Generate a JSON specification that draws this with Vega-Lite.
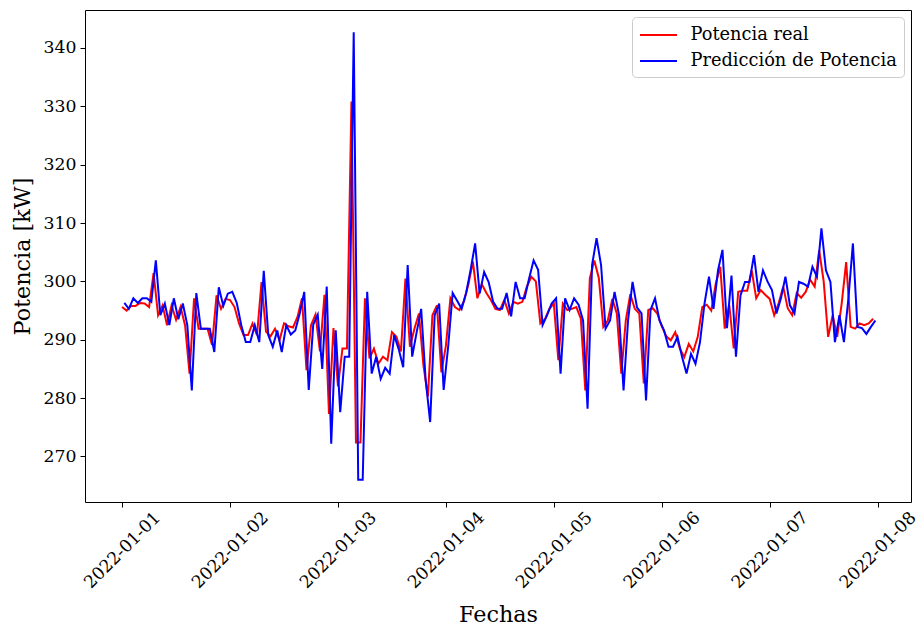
{
  "$schema": "https://vega.github.io/schema/vega-lite/v6.json",
  "width": 826,
  "height": 492,
  "autosize": {"type": "none"},
  "padding": {"left": 85, "top": 10, "right": 7, "bottom": 123},
  "background": "white",
  "config": {
    "font": "DejaVu Serif",
    "view": {"stroke": "#000000", "strokeWidth": 1},
    "axis": {
      "grid": false, "domain": false, "tickColor": "#000000", "tickSize": 5, "tickWidth": 1,
      "labelColor": "#000000", "labelFont": "DejaVu Serif", "labelFontSize": 17.3,
      "titleFont": "DejaVu Serif", "titleFontSize": 22.3, "titleFontWeight": "normal", "titleColor": "#000000"
    }
  },
  "datasets": {
    "real": [
      {"t":"2022-01-01T00:00","v":295.6},{"t":"2022-01-01T01:00","v":295.0},{"t":"2022-01-01T02:00","v":295.8},{"t":"2022-01-01T03:00","v":295.8},{"t":"2022-01-01T04:00","v":296.3},{"t":"2022-01-01T05:00","v":296.2},{"t":"2022-01-01T06:00","v":295.6},{"t":"2022-01-01T07:00","v":301.4},{"t":"2022-01-01T08:00","v":294.2},{"t":"2022-01-01T09:00","v":295.9},{"t":"2022-01-01T10:00","v":292.5},{"t":"2022-01-01T11:00","v":295.9},{"t":"2022-01-01T12:00","v":293.4},{"t":"2022-01-01T13:00","v":295.6},{"t":"2022-01-01T14:00","v":292.5},{"t":"2022-01-01T15:00","v":284.2},{"t":"2022-01-01T16:00","v":297.1},{"t":"2022-01-01T17:00","v":291.9},{"t":"2022-01-01T18:00","v":291.9},{"t":"2022-01-01T19:00","v":291.9},{"t":"2022-01-01T20:00","v":289.1},{"t":"2022-01-01T21:00","v":297.6},{"t":"2022-01-01T22:00","v":295.3},{"t":"2022-01-01T23:00","v":297.0},
      {"t":"2022-01-02T00:00","v":296.8},{"t":"2022-01-02T01:00","v":295.6},{"t":"2022-01-02T02:00","v":292.8},{"t":"2022-01-02T03:00","v":290.8},{"t":"2022-01-02T04:00","v":290.8},{"t":"2022-01-02T05:00","v":292.8},{"t":"2022-01-02T06:00","v":290.8},{"t":"2022-01-02T07:00","v":299.9},{"t":"2022-01-02T08:00","v":291.4},{"t":"2022-01-02T09:00","v":290.6},{"t":"2022-01-02T10:00","v":291.9},{"t":"2022-01-02T11:00","v":289.9},{"t":"2022-01-02T12:00","v":292.8},{"t":"2022-01-02T13:00","v":292.3},{"t":"2022-01-02T14:00","v":292.1},{"t":"2022-01-02T15:00","v":293.9},{"t":"2022-01-02T16:00","v":297.1},{"t":"2022-01-02T17:00","v":284.8},{"t":"2022-01-02T18:00","v":292.5},{"t":"2022-01-02T19:00","v":294.3},{"t":"2022-01-02T20:00","v":288.0},{"t":"2022-01-02T21:00","v":297.7},{"t":"2022-01-02T22:00","v":277.3},{"t":"2022-01-02T23:00","v":292.0},
      {"t":"2022-01-03T00:00","v":282.0},{"t":"2022-01-03T01:00","v":288.5},{"t":"2022-01-03T02:00","v":288.5},{"t":"2022-01-03T03:00","v":330.8},{"t":"2022-01-03T04:00","v":272.4},{"t":"2022-01-03T05:00","v":272.4},{"t":"2022-01-03T06:00","v":297.1},{"t":"2022-01-03T07:00","v":286.8},{"t":"2022-01-03T08:00","v":288.5},{"t":"2022-01-03T09:00","v":285.9},{"t":"2022-01-03T10:00","v":287.1},{"t":"2022-01-03T11:00","v":286.5},{"t":"2022-01-03T12:00","v":291.3},{"t":"2022-01-03T13:00","v":290.5},{"t":"2022-01-03T14:00","v":288.0},{"t":"2022-01-03T15:00","v":300.5},{"t":"2022-01-03T16:00","v":288.8},{"t":"2022-01-03T17:00","v":291.9},{"t":"2022-01-03T18:00","v":294.5},{"t":"2022-01-03T19:00","v":285.6},{"t":"2022-01-03T20:00","v":280.3},{"t":"2022-01-03T21:00","v":294.2},{"t":"2022-01-03T22:00","v":295.9},{"t":"2022-01-03T23:00","v":284.4},
      {"t":"2022-01-04T00:00","v":289.0},{"t":"2022-01-04T01:00","v":297.1},{"t":"2022-01-04T02:00","v":295.6},{"t":"2022-01-04T03:00","v":295.1},{"t":"2022-01-04T04:00","v":296.6},{"t":"2022-01-04T05:00","v":299.5},{"t":"2022-01-04T06:00","v":303.4},{"t":"2022-01-04T07:00","v":297.1},{"t":"2022-01-04T08:00","v":299.5},{"t":"2022-01-04T09:00","v":298.0},{"t":"2022-01-04T10:00","v":296.8},{"t":"2022-01-04T11:00","v":295.3},{"t":"2022-01-04T12:00","v":295.1},{"t":"2022-01-04T13:00","v":296.8},{"t":"2022-01-04T14:00","v":294.5},{"t":"2022-01-04T15:00","v":296.5},{"t":"2022-01-04T16:00","v":296.2},{"t":"2022-01-04T17:00","v":296.5},{"t":"2022-01-04T18:00","v":299.1},{"t":"2022-01-04T19:00","v":300.8},{"t":"2022-01-04T20:00","v":300.0},{"t":"2022-01-04T21:00","v":292.8},{"t":"2022-01-04T22:00","v":293.5},{"t":"2022-01-04T23:00","v":295.3},
      {"t":"2022-01-05T00:00","v":296.2},{"t":"2022-01-05T01:00","v":286.5},{"t":"2022-01-05T02:00","v":296.2},{"t":"2022-01-05T03:00","v":295.1},{"t":"2022-01-05T04:00","v":295.3},{"t":"2022-01-05T05:00","v":295.6},{"t":"2022-01-05T06:00","v":293.6},{"t":"2022-01-05T07:00","v":281.3},{"t":"2022-01-05T08:00","v":300.5},{"t":"2022-01-05T09:00","v":303.6},{"t":"2022-01-05T10:00","v":300.6},{"t":"2022-01-05T11:00","v":292.2},{"t":"2022-01-05T12:00","v":293.3},{"t":"2022-01-05T13:00","v":297.0},{"t":"2022-01-05T14:00","v":294.5},{"t":"2022-01-05T15:00","v":284.2},{"t":"2022-01-05T16:00","v":293.3},{"t":"2022-01-05T17:00","v":297.8},{"t":"2022-01-05T18:00","v":295.3},{"t":"2022-01-05T19:00","v":294.5},{"t":"2022-01-05T20:00","v":282.5},{"t":"2022-01-05T21:00","v":295.1},{"t":"2022-01-05T22:00","v":295.4},{"t":"2022-01-05T23:00","v":294.5},
      {"t":"2022-01-06T00:00","v":292.3},{"t":"2022-01-06T01:00","v":290.6},{"t":"2022-01-06T02:00","v":289.9},{"t":"2022-01-06T03:00","v":291.3},{"t":"2022-01-06T04:00","v":288.5},{"t":"2022-01-06T05:00","v":287.0},{"t":"2022-01-06T06:00","v":289.3},{"t":"2022-01-06T07:00","v":288.0},{"t":"2022-01-06T08:00","v":290.5},{"t":"2022-01-06T09:00","v":295.6},{"t":"2022-01-06T10:00","v":296.0},{"t":"2022-01-06T11:00","v":295.0},{"t":"2022-01-06T12:00","v":299.6},{"t":"2022-01-06T13:00","v":302.5},{"t":"2022-01-06T14:00","v":291.9},{"t":"2022-01-06T15:00","v":296.0},{"t":"2022-01-06T16:00","v":288.5},{"t":"2022-01-06T17:00","v":298.2},{"t":"2022-01-06T18:00","v":298.4},{"t":"2022-01-06T19:00","v":298.4},{"t":"2022-01-06T20:00","v":301.9},{"t":"2022-01-06T21:00","v":297.1},{"t":"2022-01-06T22:00","v":298.5},{"t":"2022-01-06T23:00","v":297.7},
      {"t":"2022-01-07T00:00","v":297.0},{"t":"2022-01-07T01:00","v":294.2},{"t":"2022-01-07T02:00","v":296.3},{"t":"2022-01-07T03:00","v":299.1},{"t":"2022-01-07T04:00","v":295.4},{"t":"2022-01-07T05:00","v":294.2},{"t":"2022-01-07T06:00","v":298.0},{"t":"2022-01-07T07:00","v":297.2},{"t":"2022-01-07T08:00","v":298.2},{"t":"2022-01-07T09:00","v":300.3},{"t":"2022-01-07T10:00","v":299.1},{"t":"2022-01-07T11:00","v":305.3},{"t":"2022-01-07T12:00","v":300.0},{"t":"2022-01-07T13:00","v":290.5},{"t":"2022-01-07T14:00","v":294.2},{"t":"2022-01-07T15:00","v":290.5},{"t":"2022-01-07T16:00","v":296.2},{"t":"2022-01-07T17:00","v":303.3},{"t":"2022-01-07T18:00","v":292.2},{"t":"2022-01-07T19:00","v":291.9},{"t":"2022-01-07T20:00","v":292.8},{"t":"2022-01-07T21:00","v":292.5},{"t":"2022-01-07T22:00","v":292.8},{"t":"2022-01-07T23:00","v":293.6}
    ],
    "pred": [
      {"t":"2022-01-01T00:30","v":296.3},{"t":"2022-01-01T01:30","v":295.3},{"t":"2022-01-01T02:30","v":297.1},{"t":"2022-01-01T03:30","v":296.3},{"t":"2022-01-01T04:30","v":297.1},{"t":"2022-01-01T05:30","v":297.1},{"t":"2022-01-01T06:30","v":296.5},{"t":"2022-01-01T07:30","v":303.6},{"t":"2022-01-01T08:30","v":294.2},{"t":"2022-01-01T09:30","v":296.2},{"t":"2022-01-01T10:30","v":292.5},{"t":"2022-01-01T11:30","v":297.1},{"t":"2022-01-01T12:30","v":293.5},{"t":"2022-01-01T13:30","v":296.2},{"t":"2022-01-01T14:30","v":292.5},{"t":"2022-01-01T15:30","v":281.3},{"t":"2022-01-01T16:30","v":298.0},{"t":"2022-01-01T17:30","v":291.9},{"t":"2022-01-01T18:30","v":291.9},{"t":"2022-01-01T19:30","v":291.9},{"t":"2022-01-01T20:30","v":287.9},{"t":"2022-01-01T21:30","v":299.0},{"t":"2022-01-01T22:30","v":295.8},{"t":"2022-01-01T23:30","v":297.9},
      {"t":"2022-01-02T00:30","v":298.2},{"t":"2022-01-02T01:30","v":296.3},{"t":"2022-01-02T02:30","v":292.5},{"t":"2022-01-02T03:30","v":289.6},{"t":"2022-01-02T04:30","v":289.6},{"t":"2022-01-02T05:30","v":292.5},{"t":"2022-01-02T06:30","v":289.6},{"t":"2022-01-02T07:30","v":301.8},{"t":"2022-01-02T08:30","v":290.8},{"t":"2022-01-02T09:30","v":288.8},{"t":"2022-01-02T10:30","v":291.6},{"t":"2022-01-02T11:30","v":287.9},{"t":"2022-01-02T12:30","v":292.5},{"t":"2022-01-02T13:30","v":290.9},{"t":"2022-01-02T14:30","v":291.6},{"t":"2022-01-02T15:30","v":294.5},{"t":"2022-01-02T16:30","v":298.2},{"t":"2022-01-02T17:30","v":281.4},{"t":"2022-01-02T18:30","v":292.6},{"t":"2022-01-02T19:30","v":294.3},{"t":"2022-01-02T20:30","v":285.0},{"t":"2022-01-02T21:30","v":299.1},{"t":"2022-01-02T22:30","v":272.2},{"t":"2022-01-02T23:30","v":291.6},
      {"t":"2022-01-03T00:30","v":277.6},{"t":"2022-01-03T01:30","v":287.1},{"t":"2022-01-03T02:30","v":287.1},{"t":"2022-01-03T03:30","v":342.7},{"t":"2022-01-03T04:30","v":266.0},{"t":"2022-01-03T05:30","v":266.0},{"t":"2022-01-03T06:30","v":298.2},{"t":"2022-01-03T07:30","v":284.2},{"t":"2022-01-03T08:30","v":287.1},{"t":"2022-01-03T09:30","v":283.3},{"t":"2022-01-03T10:30","v":285.2},{"t":"2022-01-03T11:30","v":284.2},{"t":"2022-01-03T12:30","v":290.8},{"t":"2022-01-03T13:30","v":288.4},{"t":"2022-01-03T14:30","v":285.3},{"t":"2022-01-03T15:30","v":302.8},{"t":"2022-01-03T16:30","v":287.1},{"t":"2022-01-03T17:30","v":291.3},{"t":"2022-01-03T18:30","v":295.3},{"t":"2022-01-03T19:30","v":283.1},{"t":"2022-01-03T20:30","v":275.9},{"t":"2022-01-03T21:30","v":294.2},{"t":"2022-01-03T22:30","v":296.2},{"t":"2022-01-03T23:30","v":281.4},
      {"t":"2022-01-04T00:30","v":288.8},{"t":"2022-01-04T01:30","v":298.0},{"t":"2022-01-04T02:30","v":296.7},{"t":"2022-01-04T03:30","v":295.3},{"t":"2022-01-04T04:30","v":298.0},{"t":"2022-01-04T05:30","v":302.0},{"t":"2022-01-04T06:30","v":306.5},{"t":"2022-01-04T07:30","v":297.9},{"t":"2022-01-04T08:30","v":301.6},{"t":"2022-01-04T09:30","v":299.9},{"t":"2022-01-04T10:30","v":296.5},{"t":"2022-01-04T11:30","v":295.3},{"t":"2022-01-04T12:30","v":295.3},{"t":"2022-01-04T13:30","v":298.0},{"t":"2022-01-04T14:30","v":294.0},{"t":"2022-01-04T15:30","v":299.9},{"t":"2022-01-04T16:30","v":297.1},{"t":"2022-01-04T17:30","v":297.1},{"t":"2022-01-04T18:30","v":300.5},{"t":"2022-01-04T19:30","v":303.6},{"t":"2022-01-04T20:30","v":302.0},{"t":"2022-01-04T21:30","v":292.5},{"t":"2022-01-04T22:30","v":294.2},{"t":"2022-01-04T23:30","v":296.2},
      {"t":"2022-01-05T00:30","v":297.1},{"t":"2022-01-05T01:30","v":284.2},{"t":"2022-01-05T02:30","v":297.1},{"t":"2022-01-05T03:30","v":295.1},{"t":"2022-01-05T04:30","v":297.1},{"t":"2022-01-05T05:30","v":296.0},{"t":"2022-01-05T06:30","v":293.3},{"t":"2022-01-05T07:30","v":278.2},{"t":"2022-01-05T08:30","v":302.8},{"t":"2022-01-05T09:30","v":307.4},{"t":"2022-01-05T10:30","v":302.8},{"t":"2022-01-05T11:30","v":291.9},{"t":"2022-01-05T12:30","v":293.3},{"t":"2022-01-05T13:30","v":298.2},{"t":"2022-01-05T14:30","v":294.2},{"t":"2022-01-05T15:30","v":281.3},{"t":"2022-01-05T16:30","v":293.3},{"t":"2022-01-05T17:30","v":299.9},{"t":"2022-01-05T18:30","v":295.5},{"t":"2022-01-05T19:30","v":294.5},{"t":"2022-01-05T20:30","v":279.6},{"t":"2022-01-05T21:30","v":295.1},{"t":"2022-01-05T22:30","v":297.1},{"t":"2022-01-05T23:30","v":293.3},
      {"t":"2022-01-06T00:30","v":291.6},{"t":"2022-01-06T01:30","v":288.8},{"t":"2022-01-06T02:30","v":288.8},{"t":"2022-01-06T03:30","v":290.5},{"t":"2022-01-06T04:30","v":287.1},{"t":"2022-01-06T05:30","v":284.2},{"t":"2022-01-06T06:30","v":287.6},{"t":"2022-01-06T07:30","v":285.9},{"t":"2022-01-06T08:30","v":289.6},{"t":"2022-01-06T09:30","v":296.2},{"t":"2022-01-06T10:30","v":300.8},{"t":"2022-01-06T11:30","v":295.3},{"t":"2022-01-06T12:30","v":301.9},{"t":"2022-01-06T13:30","v":305.4},{"t":"2022-01-06T14:30","v":292.0},{"t":"2022-01-06T15:30","v":301.0},{"t":"2022-01-06T16:30","v":287.1},{"t":"2022-01-06T17:30","v":297.6},{"t":"2022-01-06T18:30","v":299.9},{"t":"2022-01-06T19:30","v":299.9},{"t":"2022-01-06T20:30","v":304.5},{"t":"2022-01-06T21:30","v":298.2},{"t":"2022-01-06T22:30","v":301.9},{"t":"2022-01-06T23:30","v":300.0},
      {"t":"2022-01-07T00:30","v":298.5},{"t":"2022-01-07T01:30","v":294.5},{"t":"2022-01-07T02:30","v":297.1},{"t":"2022-01-07T03:30","v":300.8},{"t":"2022-01-07T04:30","v":295.9},{"t":"2022-01-07T05:30","v":294.5},{"t":"2022-01-07T06:30","v":299.9},{"t":"2022-01-07T07:30","v":299.6},{"t":"2022-01-07T08:30","v":299.1},{"t":"2022-01-07T09:30","v":302.5},{"t":"2022-01-07T10:30","v":300.8},{"t":"2022-01-07T11:30","v":309.1},{"t":"2022-01-07T12:30","v":301.9},{"t":"2022-01-07T13:30","v":299.9},{"t":"2022-01-07T14:30","v":289.6},{"t":"2022-01-07T15:30","v":294.2},{"t":"2022-01-07T16:30","v":289.6},{"t":"2022-01-07T17:30","v":297.1},{"t":"2022-01-07T18:30","v":306.5},{"t":"2022-01-07T19:30","v":292.2},{"t":"2022-01-07T20:30","v":292.0},{"t":"2022-01-07T21:30","v":291.0},{"t":"2022-01-07T22:30","v":292.2},{"t":"2022-01-07T23:30","v":293.3}
    ]
  },
  "encoding": {
    "x": {
      "field": "t", "type": "temporal", "title": "Fechas",
      "scale": {"domain": [{"year": 2021, "month": 12, "date": 31, "hours": 15, "minutes": 45}, {"year": 2022, "month": 1, "date": 8, "hours": 7, "minutes": 25}]},
      "axis": {
        "values": [
          {"year": 2022, "month": 1, "date": 1}, {"year": 2022, "month": 1, "date": 2}, {"year": 2022, "month": 1, "date": 3}, {"year": 2022, "month": 1, "date": 4},
          {"year": 2022, "month": 1, "date": 5}, {"year": 2022, "month": 1, "date": 6}, {"year": 2022, "month": 1, "date": 7}, {"year": 2022, "month": 1, "date": 8}
        ],
        "format": "%Y-%m-%d", "labelAngle": -45, "labelAlign": "center", "labelBaseline": "middle",
        "labelPadding": 43, "labelOverlap": false, "labelBound": false, "labelFlush": false,
        "titleX": 413, "titleY": 119, "titleBaseline": "alphabetic", "titleAlign": "center"
      }
    },
    "y": {
      "field": "v", "type": "quantitative", "title": "Potencia [kW]",
      "scale": {"domain": [262.2, 346.5], "nice": false, "zero": false},
      "axis": {
        "values": [270, 280, 290, 300, 310, 320, 330, 340],
        "labelPadding": 4, "labelOverlap": false,
        "titleX": -63, "titleY": 246, "titleAngle": -90, "titleAlign": "center", "titleBaseline": "middle"
      }
    }
  },
  "layer": [
    {
      "data": {"name": "real"},
      "mark": {"type": "line", "strokeWidth": 2, "clip": true},
      "encoding": {
        "color": {
          "datum": "Potencia real",
          "scale": {"domain": ["Potencia real", "Predicción de Potencia"], "range": ["#ff0000", "#0000ff"]},
          "legend": {
            "title": null, "orient": "top-right", "offset": 7, "padding": 7,
            "strokeColor": "#cccccc", "fillColor": "#ffffff", "cornerRadius": 4,
            "symbolType": "M-1.85,0H1.85", "symbolSize": 400, "symbolStrokeWidth": 2, "symbolOffset": 8.5,
            "labelFont": "DejaVu Serif", "labelFontSize": 17.8, "labelColor": "#000000",
            "labelOffset": 21, "labelLimit": 400, "rowPadding": 6
          }
        }
      }
    },
    {
      "data": {"name": "pred"},
      "mark": {"type": "line", "strokeWidth": 2, "clip": true},
      "encoding": {"color": {"datum": "Predicción de Potencia"}}
    }
  ]
}
